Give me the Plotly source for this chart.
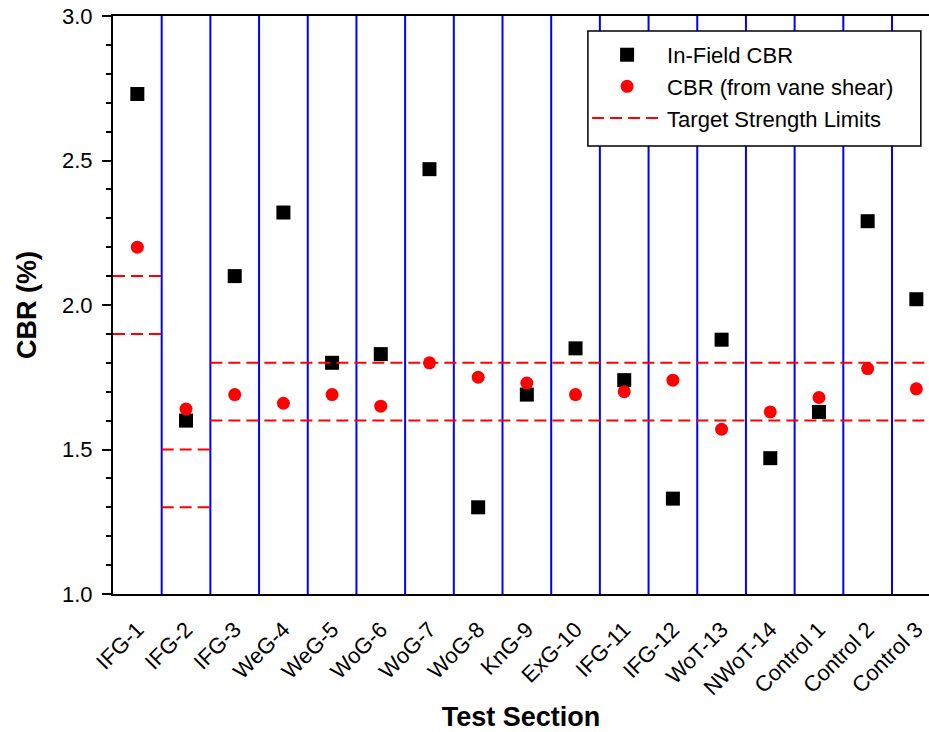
import plotly.graph_objects as go

sections = ["IFG-1", "IFG-2", "IFG-3", "WeG-4", "WeG-5", "WoG-6", "WoG-7", "WoG-8",
            "KnG-9", "ExG-10", "IFG-11", "IFG-12", "WoT-13", "NWoT-14",
            "Control 1", "Control 2", "Control 3"]
infield_cbr = [2.73, 1.60, 2.10, 2.32, 1.80, 1.83, 2.47, 1.30, 1.69, 1.85,
               1.74, 1.33, 1.88, 1.47, 1.63, 2.29, 2.02]
vane_cbr = [2.20, 1.64, 1.69, 1.66, 1.69, 1.65, 1.80, 1.75, 1.73, 1.69,
            1.70, 1.74, 1.57, 1.63, 1.68, 1.78, 1.71]

# target strength limits: (first section, last section, lower, upper)
target_limits = [(1, 1, 1.9, 2.1), (2, 2, 1.3, 1.5), (3, 17, 1.6, 1.8)]

xpos = list(range(1, len(sections) + 1))

fig = go.Figure()

# target limit dashed lines
tx, ty = [], []
for first, last, lo, hi in target_limits:
    for v in (hi, lo):
        tx += [first - 0.5, last + 0.5, None]
        ty += [v, v, None]

fig.add_trace(go.Scatter(
    x=xpos, y=infield_cbr, mode="markers", name="In-Field CBR",
    marker=dict(symbol="square", size=14, color="black"),
))
fig.add_trace(go.Scatter(
    x=xpos, y=vane_cbr, mode="markers", name="CBR (from vane shear)",
    marker=dict(symbol="circle", size=13, color="#ff0000"),
))
fig.add_trace(go.Scatter(
    x=tx, y=ty, mode="lines", name="Target Strength Limits",
    line=dict(color="#ff0000", width=2, dash="12px,6px"),
))

# blue separators between test sections
for i in range(1, len(sections)):
    fig.add_shape(type="line", xref="x", yref="paper", x0=i + 0.5, x1=i + 0.5,
                  y0=0, y1=1, line=dict(color="#0000ff", width=2), layer="below")

# framed white panel behind the legend entries
fig.add_shape(type="rect", xref="paper", yref="paper",
              x0=0.582, x1=0.990, y0=0.775, y1=0.974,
              line=dict(color="black", width=1.5), fillcolor="white", layer="above")

FONT = "Liberation Sans, Arial, sans-serif"
axis_font = dict(family=FONT, color="black")

fig.update_layout(
    width=929, height=732,
    margin=dict(l=113, r=0, t=16, b=138),
    paper_bgcolor="white", plot_bgcolor="white",
    font=dict(family=FONT, color="black"),
    showlegend=True,
    legend=dict(
        x=0.581, xanchor="left", y=0.969, yanchor="top",
        borderwidth=0, bgcolor="rgba(0,0,0,0)",
        font=dict(size=22, family=FONT),
        traceorder="normal", itemwidth=70,
        tracegroupgap=0,
    ),
    xaxis=dict(
        range=[0.5, 17.26],
        tickmode="array", tickvals=xpos, ticktext=sections, tickangle=-45,
        tickfont=dict(size=22, **axis_font),
        ticklabelstandoff=12,
        showgrid=False, zeroline=False,
        showline=True, linecolor="black", linewidth=2, mirror=True,
        ticks="",
        title=dict(text="<b>Test Section</b>", font=dict(size=27, **axis_font), standoff=8),
    ),
    yaxis=dict(
        range=[1.0, 3.0],
        tickmode="array", tickvals=[1.0, 1.5, 2.0, 2.5, 3.0],
        ticktext=["1.0", "1.5", "2.0", "2.5", "3.0"],
        tickfont=dict(size=22, **axis_font),
        ticks="outside", ticklen=9, tickwidth=1.5, tickcolor="black",
        ticklabelstandoff=5,
        minor=dict(dtick=0.1, ticks="outside", ticklen=5, tickwidth=1.5, tickcolor="black"),
        showgrid=False, zeroline=False,
        showline=True, linecolor="black", linewidth=2, mirror=False,
        title=dict(text="<b>CBR (%)</b>", font=dict(size=27, **axis_font), standoff=18),
    ),
)

fig.write_html("out.html")
